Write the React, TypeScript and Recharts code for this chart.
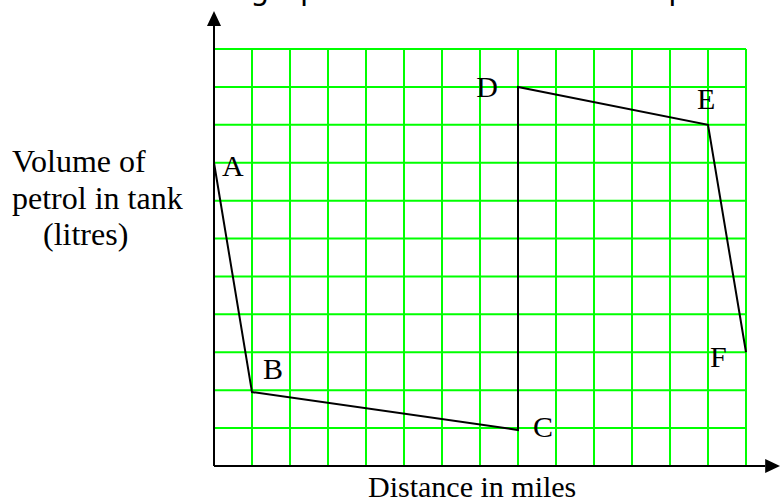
import { CartesianGrid, LabelList, Line, LineChart, ReferenceLine, XAxis, YAxis } from 'recharts'

// points of the journey, read left to right
const pointNames = ['A', 'B', 'C', 'D', 'E', 'F']
const distanceMiles = [0, 1, 8, 8, 13, 14]
const petrolLitres = [8, 1.95, 0.95, 10, 9, 3]

const distanceTicks = [0, 1, 2, 3, 4, 5, 6, 7, 8, 9, 10, 11, 12, 13, 14]
const volumeTicks = [0, 1, 2, 3, 4, 5, 6, 7, 8, 9, 10, 11]

const chartData = pointNames.map((name, i) => ({
  name,
  distance: distanceMiles[i],
  volume: petrolLitres[i],
}))

const serif = '"Liberation Serif", "Times New Roman", serif'

// where each letter sits relative to its point
const labelOffset: Record<string, { dx: number; dy: number; anchor: 'start' | 'end' }> = {
  A: { dx: 8, dy: 13, anchor: 'start' },
  B: { dx: 11, dy: -13, anchor: 'start' },
  C: { dx: 15, dy: 7, anchor: 'start' },
  D: { dx: -20, dy: 10, anchor: 'end' },
  E: { dx: -11, dy: -16, anchor: 'start' },
  F: { dx: -36, dy: 15, anchor: 'start' },
}

const PointLabel = (props: any) => {
  const { x, y, value } = props
  const o = labelOffset[value] || { dx: 0, dy: 0, anchor: 'start' }
  return (
    <text
      x={x + o.dx}
      y={y + o.dy}
      textAnchor={o.anchor}
      fontFamily={serif}
      fontSize={30}
      fill="#000"
    >
      {value}
    </text>
  )
}

// axis line with a filled arrow head at the far end
const ArrowLine = (props: any) => {
  const { x1, y1, x2, y2 } = props
  const len = Math.hypot(x2 - x1, y2 - y1) || 1
  const ux = (x2 - x1) / len
  const uy = (y2 - y1) / len
  const head = 15
  const half = 7
  const bx = x2 - ux * head
  const by = y2 - uy * head
  const pts = `${x2},${y2} ${bx - uy * half},${by + ux * half} ${bx + uy * half},${by - ux * half}`
  return (
    <g>
      <line x1={x1} y1={y1} x2={bx} y2={by} stroke="#000" strokeWidth={2} />
      <polygon points={pts} fill="#000" />
    </g>
  )
}

// ticks stay on the axes (they drive the grid) but draw nothing
const NoTick = () => <g />

export default function App() {
  return (
    <div style={{ position: 'absolute', left: 0, top: 0, width: 780, height: 502, background: '#fff' }}>
      <LineChart
        width={780}
        height={502}
        data={chartData}
        margin={{ top: 49, right: 34, bottom: 36, left: 214 }}
      >
        <text x={185} y={0} fontFamily='"DejaVu Sans", sans-serif' fontSize={30} fill="#000">
          The graph shows a car's road trip
        </text>
        <CartesianGrid stroke="#00ff00" strokeWidth={2} fill="none" />
        <XAxis
          dataKey="distance"
          type="number"
          domain={[0, 14]}
          ticks={distanceTicks}
          interval={0}
          height={0}
          axisLine={false}
          tickLine={false}
          tick={NoTick}
        />
        <YAxis
          type="number"
          domain={[0, 11]}
          ticks={volumeTicks}
          interval={0}
          width={0}
          axisLine={false}
          tickLine={false}
          tick={NoTick}
        />
        <ReferenceLine
          segment={[{ x: 0, y: 0 }, { x: 14.9, y: 0 }]}
          ifOverflow="visible"
          shape={ArrowLine}
        />
        <ReferenceLine
          segment={[{ x: 0, y: 0 }, { x: 0, y: 12 }]}
          ifOverflow="visible"
          shape={ArrowLine}
        />
        <Line
          type="linear"
          dataKey="volume"
          stroke="#000"
          strokeWidth={2}
          dot={false}
          isAnimationActive={false}
        >
          <LabelList dataKey="name" content={PointLabel} />
        </Line>
        <text fontFamily={serif} fontSize={32} fill="#000">
          <tspan x={12} y={172}>Volume of</tspan>
          <tspan x={12} y={209}>petrol in tank</tspan>
          <tspan x={43} y={245}>(litres)</tspan>
        </text>
        <text x={368} y={497} fontFamily={serif} fontSize={30} fill="#000">
          Distance in miles
        </text>
      </LineChart>
    </div>
  )
}
